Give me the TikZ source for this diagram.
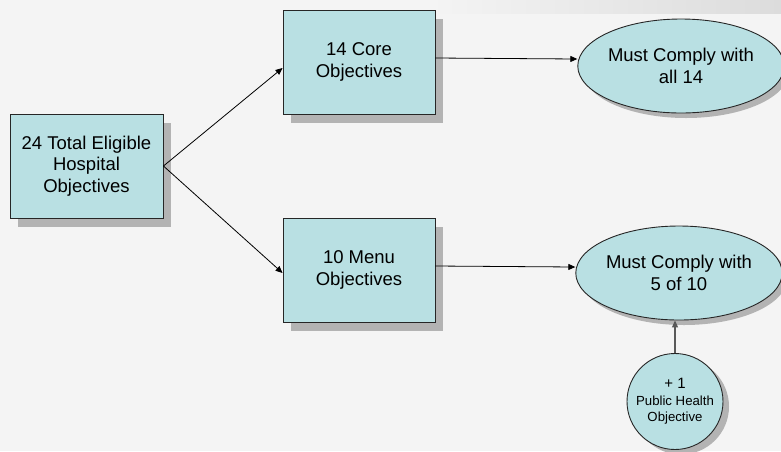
\documentclass[tikz,border=0pt]{standalone}
\usepackage{fontspec}
\setmainfont{Liberation Sans}
\usetikzlibrary{arrows.meta,shapes.geometric,shadows}
\definecolor{boxfill}{HTML}{B9E0E3}
\definecolor{bgc}{HTML}{F4F4F4}
\definecolor{topband}{HTML}{DCDCDC}
\definecolor{shadowc}{HTML}{B3B3B3}
\begin{document}
\begin{tikzpicture}[x=1pt,y=-1pt,
  bigtext/.style={font=\fontsize{18.5}{21.7}\selectfont},
  box/.style={draw=black!85, line width=0.9pt, fill=boxfill, minimum width=152pt,
    minimum height=104pt, inner sep=0pt, align=center, bigtext,
    drop shadow={shadow xshift=8pt, shadow yshift=-9pt, fill=shadowc, opacity=1}},
  oval/.style={ellipse, draw=black!85, line width=0.9pt, fill=boxfill, inner sep=0pt,
    align=center, bigtext,
    drop shadow={shadow xshift=5pt, shadow yshift=-5pt, fill=shadowc, opacity=1}},
  arr/.style={draw=black, line width=0.8pt, -{Triangle[length=7pt,width=6pt]}},
  grayarr/.style={draw=black!65, line width=1.2pt, -{Triangle[length=7pt,width=6pt]}}]
\fill[bgc] (0,0) rectangle (781,451);
\useasboundingbox (0,0) rectangle (781,451);
\shade[left color=bgc, right color=topband] (430,0) rectangle (781,13);

\node[box, minimum width=153pt] (lbox) at (86.5,166) {24 Total Eligible\\Hospital\\Objectives};
\node[box] (core) at (359,62) {14 Core\\Objectives};
\node[box] (menu) at (359,270) {10 Menu\\Objectives};
\node[oval, minimum width=188pt, minimum height=94pt] (all) at (681,66) {Must Comply with\\all 14};
\node[oval, minimum width=202pt, minimum height=94pt] (five) at (679,273) {Must Comply with\\5 of 10};
\node[circle, draw=black!85, line width=0.9pt, fill=boxfill, minimum size=96pt, inner sep=0pt,
  align=center, font=\fontsize{13.2}{16.5}\selectfont,
  drop shadow={shadow xshift=6pt, shadow yshift=-5pt, fill=shadowc, opacity=1}]
  (pub) at (675,401.5) {{\fontsize{15}{16.5}\selectfont + 1}\\Public Health\\Objective};

\draw[arr] (lbox.east) -- ([yshift=-6pt]core.west);
\draw[arr] (lbox.east) -- ([yshift=-3pt]menu.west);
\draw[arr] ([yshift=4pt]core.east) -- ([yshift=7pt]all.west);
\draw[arr] ([yshift=4pt]menu.east) -- ([yshift=6pt]five.west);
\draw[grayarr] (pub.north) -- (pub.north |- five.south);
\end{tikzpicture}
\end{document}
